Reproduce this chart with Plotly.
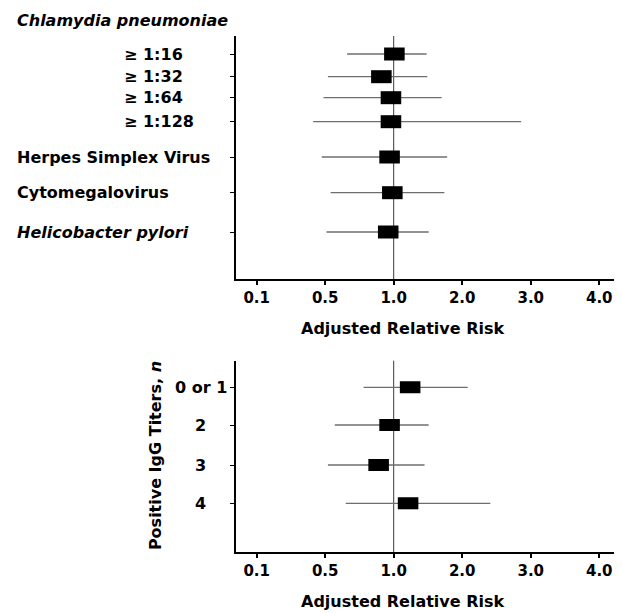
import numpy as np
import plotly.graph_objects as go

# ---------------- data ----------------
tick_values = [0.1, 0.5, 1.0, 2.0, 3.0, 4.0]
tick_labels = ["0.1", "0.5", "1.0", "2.0", "3.0", "4.0"]
ref_value = 1.0

top_header = "Chlamydia pneumoniae"
top_labels = ["\u2265 1:16", "\u2265 1:32", "\u2265 1:64", "\u2265 1:128",
              "Herpes Simplex Virus", "Cytomegalovirus", "Helicobacter pylori"]
top_italic = [False, False, False, False, False, False, True]
top_indent = [True, True, True, True, False, False, False]
top_rr = [1.01, 0.91, 0.98, 0.98, 0.97, 0.99, 0.96]
top_lo = [0.66, 0.52, 0.49, 0.43, 0.48, 0.54, 0.51]
top_hi = [1.48, 1.49, 1.70, 2.86, 1.78, 1.74, 1.51]

bot_labels = ["0 or 1", "2", "3", "4"]
bot_rr = [1.24, 0.97, 0.89, 1.21]
bot_lo = [0.78, 0.57, 0.52, 0.65]
bot_hi = [2.08, 1.51, 1.45, 2.41]

x_title = "Adjusted Relative Risk"
bot_y_title = "<b>Positive IgG Titers, <i>n</i></b>"

# ---------------- layout geometry (reference pixels) ----------------
OFF = 8                      # page body margin
W, H = 622, 613
L, T, B = 235.5, 36, 552
FIRST_TICK_PX, TICK_STEP_PX = 256.2, 68.6
top_rows = [54, 76.7, 97.7, 121.7, 157, 192.7, 232]
bot_rows = [387.3, 425, 465, 503.3]
top_bottom_px = 279
bot_top_px = 360.7

FONT = "DejaVu Sans"


def pos(v):
    return np.interp(v, tick_values, list(range(len(tick_values))))


def px2x(px):
    return (px - L) / (W - L)


def px2y(py):
    return (B - py) / (B - T)


x_range = [(L - FIRST_TICK_PX) / TICK_STEP_PX, (W - FIRST_TICK_PX) / TICK_STEP_PX]
half_box = 0.15

fig = go.Figure()


def add_panel(rr, lo, hi, rows, xa, ya, box_h):
    cx, cy = [], []
    bx, by = [], []
    for r, l, h, y in zip(rr, lo, hi, rows):
        cx += [pos(l), pos(h), None]
        cy += [y, y, None]
        p = pos(r)
        bx += [p - half_box, p + half_box, None]
        by += [y, y, None]
    fig.add_trace(go.Scatter(x=cx, y=cy, mode="lines", xaxis=xa, yaxis=ya,
                             line=dict(color="#6e6e6e", width=1.3),
                             hoverinfo="skip", showlegend=False))
    fig.add_trace(go.Scatter(x=bx, y=by, mode="lines", xaxis=xa, yaxis=ya,
                             line=dict(color="black", width=box_h),
                             hoverinfo="skip", showlegend=False))


add_panel(top_rr, top_lo, top_hi, top_rows, "x", "y", 13)
add_panel(bot_rr, bot_lo, bot_hi, bot_rows, "x2", "y2", 12)

# reference lines
for xr, yr in [("x", "y domain"), ("x2", "y2 domain")]:
    fig.add_shape(type="line", xref=xr, yref=yr, x0=pos(ref_value), x1=pos(ref_value),
                  y0=0, y1=1, line=dict(color="#3a3a3a", width=1), layer="below")

xaxis_common = dict(range=x_range, tickmode="array",
                    tickvals=list(range(len(tick_values))), ticktext=tick_labels,
                    showline=True, linecolor="black", linewidth=1.5,
                    ticks="outside", ticklen=4, tickwidth=1.5, tickcolor="black",
                    showgrid=False, zeroline=False,
                    tickfont=dict(family=FONT, size=15, color="black", weight="bold"))
yaxis_common = dict(showline=True, linecolor="black", linewidth=1.5,
                    ticks="outside", ticklen=4, tickwidth=1.2, tickcolor="black",
                    showgrid=False, zeroline=False, showticklabels=False)

fig.update_layout(
    width=W - OFF, height=H - OFF,
    margin=dict(l=L - OFF, r=0, t=T - OFF, b=H - B, pad=0),
    paper_bgcolor="white", plot_bgcolor="white",
    showlegend=False,
    xaxis=dict(**xaxis_common, anchor="y", domain=[0, 1]),
    yaxis=dict(**yaxis_common, anchor="x", range=[top_bottom_px, T],
               tickvals=top_rows, domain=[px2y(top_bottom_px), 1]),
    xaxis2=dict(**xaxis_common, anchor="y2", domain=[0, 1]),
    yaxis2=dict(**yaxis_common, anchor="x2", range=[B, bot_top_px],
                tickvals=bot_rows, domain=[0, px2y(bot_top_px)]),
)

ann = []
lab_font = dict(family=FONT, size=16, color="black")
ann.append(dict(text="<b><i>" + top_header + "</i></b>", xref="paper", yref="paper",
                x=px2x(14), y=px2y(21), xanchor="left", yanchor="middle",
                showarrow=False, font=lab_font))
for lab, it, ind, y in zip(top_labels, top_italic, top_indent, top_rows):
    txt = "<b><i>" + lab + "</i></b>" if it else "<b>" + lab + "</b>"
    ann.append(dict(text=txt, xref="paper", yref="y", x=px2x(121 if ind else 14), y=y,
                    xanchor="left", yanchor="middle", showarrow=False, font=lab_font))
for lab, y in zip(bot_labels, bot_rows):
    ann.append(dict(text="<b>" + lab + "</b>", xref="paper", yref="y2", x=px2x(200), y=y,
                    xanchor="center", yanchor="middle", showarrow=False, font=lab_font))
for yc in [328.7, 601]:
    ann.append(dict(text="<b>" + x_title + "</b>", xref="paper", yref="paper",
                    x=px2x(403), y=px2y(yc), xanchor="center", yanchor="middle",
                    showarrow=False, font=lab_font))
ann.append(dict(text=bot_y_title, xref="paper", yref="paper", textangle=-90,
                x=px2x(155), y=px2y(455.5), xanchor="center", yanchor="middle",
                showarrow=False, font=lab_font))
fig.update_layout(annotations=ann)

fig.write_html("out.html")
